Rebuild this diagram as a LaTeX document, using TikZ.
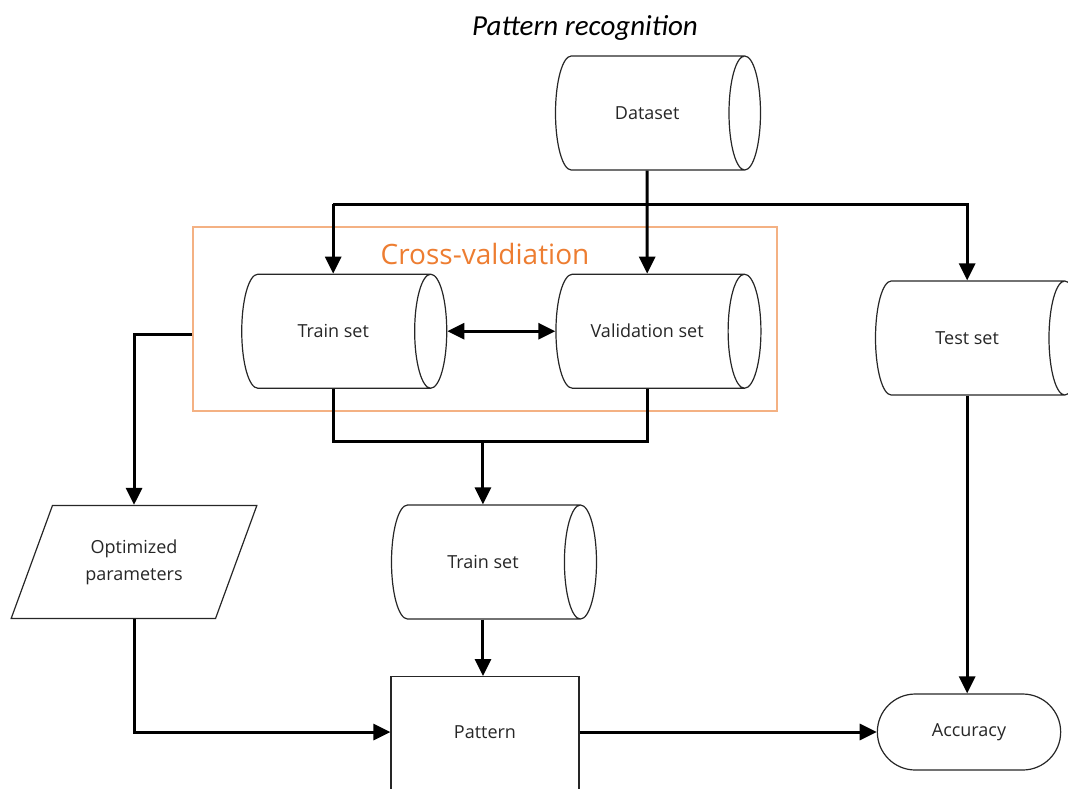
\documentclass[tikz,border=0pt]{standalone}
\usepackage{fontspec}
\setmainfont{Open Sans}
\newfontfamily\titlefont{Carlito}
\usepackage{tikz}
\usetikzlibrary{shapes, shapes.geometric, shapes.misc, arrows.meta, positioning}
\usepackage{xcolor}
\definecolor{cvorange}{RGB}{237,125,49}
\definecolor{cvframe}{RGB}{244,177,131}
\definecolor{ink}{RGB}{38,38,38}

\begin{document}
\begin{tikzpicture}[
        x=1pt, y=-1pt,
        base/.style={draw=ink, line width=1.2pt, text=ink, align=center, font=\fontsize{18}{27}\selectfont},
        store/.style={base, cylinder, shape border rotate=0, aspect=1.6, minimum width=114pt, minimum height=205pt, anchor=shape center},
        dataio/.style={base, trapezium, trapezium left angle=63, trapezium right angle=117, minimum width=246pt, minimum height=113pt, trapezium stretches=true},
        process/.style={base, rectangle, minimum width=188pt, minimum height=124pt, text depth=55pt},
        terminal/.style={base, rounded rectangle, minimum width=190pt, minimum height=76pt},
        arrow/.style={-{Triangle[length=17pt, width=16pt]}, line width=3pt, black},
        line/.style={line width=3pt, black},
        cvbox/.style={draw=cvframe, line width=1.5pt, minimum width=584pt, minimum height=184pt},
        label/.style={text=cvorange, font=\fontsize{28}{33}\selectfont}
    ]

        \useasboundingbox (0,0) rectangle (1068,788);

        % Title
        \node[font=\titlefont\itshape\fontsize{29}{34}\selectfont, text=black] (title) at (585,28) {Pattern recognition};

        % Cross-validation frame
        \node[cvbox] (cv) at (485,319) {};
        \node[label] (cvlabel) at (485,254) {Cross-valdiation};

        % Define nodes for data flow
        \node[store] (dataset) at (658,113) {Dataset};
        \node[store, below=103pt of dataset] (valid) {Validation set};
        \node[store, left=108pt of valid] (trainA) {Train set};
        \node[store] (test) at (978,338) {Test set};
        \node[store] (trainB) at (494,562) {Train set};
        \node[dataio] (optim) at (134,562) {Optimized\\parameters};
        \node[terminal] (accuracy) at (969,732) {Accuracy};
        \node[process, anchor=north] (pattern) at (485,676) {};
        \node[base, draw=none] (patterntext) at (pattern.north |- accuracy) {Pattern};

        % Split of the dataset
        \coordinate (fork) at (649,204);
        \draw[arrow] (dataset.center |- dataset.south) -- (valid.center |- valid.north);
        \draw[arrow] (fork -| trainA.center) -- (trainA.center |- trainA.north);
        \draw[arrow] (fork -| trainA.center) -- (fork -| test.center) -- (test.center |- test.north);

        % Cross-validation
        \draw[arrow, {Triangle[length=17pt, width=16pt]}-{Triangle[length=17pt, width=16pt]}] (trainA.east) -- (valid.west);
        \draw[arrow] ([yshift=-15pt]cv.west) -| (optim.north);

        % Merge into the final train set
        \coordinate (merge) at (trainB.center |- 0,441);
        \draw[line] (trainA.center |- trainA.south) |- (merge) -| (valid.center |- valid.south);
        \draw[arrow] (merge) -- (trainB.center |- trainB.north);
        \draw[arrow] (trainB.center |- trainB.south) -- (trainB.center |- pattern.north);

        % Evaluation
        \draw[arrow] (optim.south) |- (pattern.west |- patterntext);
        \draw[arrow] (pattern.east |- patterntext) -- (accuracy.west);
        \draw[arrow] (test.center |- test.south) -- (test.center |- accuracy.north);

    \end{tikzpicture}
\end{document}
